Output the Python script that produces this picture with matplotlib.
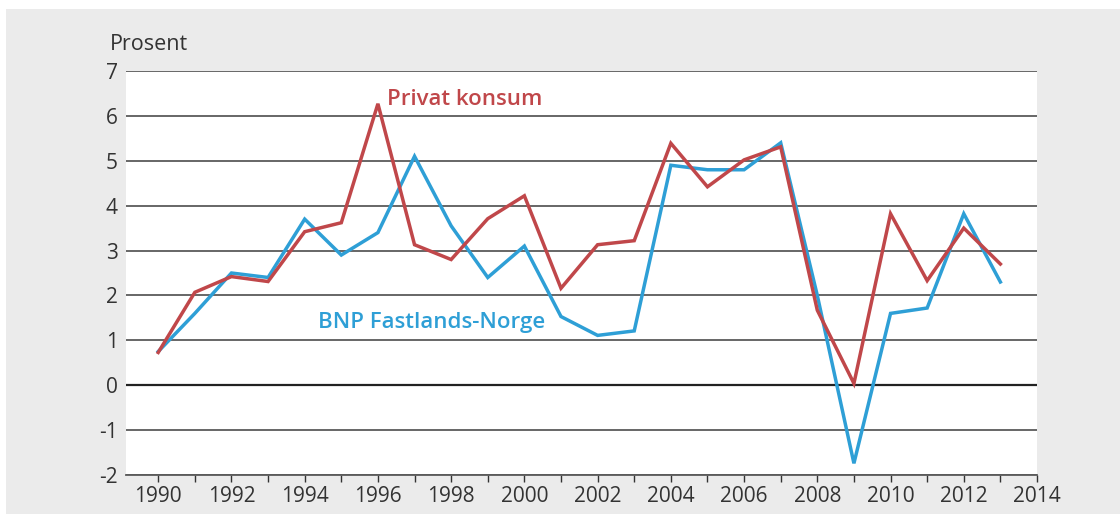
import matplotlib
matplotlib.use("Agg")
import matplotlib.pyplot as plt
from matplotlib.patches import Rectangle
from matplotlib.ticker import MultipleLocator

plt.rcParams['font.family'] = ['Open Sans', 'DejaVu Sans']

years = list(range(1990, 2014))
bnp = [0.75, 1.6, 2.5, 2.4, 3.7, 2.9, 3.4, 5.1, 3.55, 2.4, 3.1, 1.53,
       1.11, 1.21, 4.9, 4.8, 4.8, 5.4, 2.0, -1.74, 1.6, 1.72, 3.82, 2.3]
konsum = [0.73, 2.07, 2.42, 2.31, 3.42, 3.62, 6.27, 3.13, 2.8, 3.71, 4.22, 2.16,
          3.13, 3.22, 5.39, 4.42, 5.02, 5.31, 1.67, 0.04, 3.82, 2.33, 3.5, 2.7]

blue = '#2e9fd6'
red = '#c0474a'
txt = '#333333'

fig = plt.figure(figsize=(11.2, 5.14), dpi=100, facecolor='white')
fig.patches.append(Rectangle((6 / 1120, 0), 1, 1 - 9 / 514, transform=fig.transFigure,
                             facecolor='#ebebeb', edgecolor='none', zorder=-10))

ax = fig.add_axes([126 / 1120, 1 - 475 / 514, (1037 - 126) / 1120, (475 - 71) / 514])
ax.set_zorder(5)
ax.set_facecolor('white')

# grid lines
for v in range(-2, 8):
    if v == 0:
        ax.axhline(v, color='#222222', lw=1.6, zorder=1)
    else:
        ax.axhline(v, color='#5a5a5a', lw=1.3, zorder=1)

ax.plot(years, bnp, color=blue, lw=2.5, zorder=3, solid_joinstyle='miter')
ax.plot(years, konsum, color=red, lw=2.5, zorder=4, solid_joinstyle='miter')

ax.text(1998.38, 6.37, 'Privat konsum', color=red, fontsize=16, fontweight='semibold',
        ha='center', va='center')
ax.text(1997.48, 1.4, 'BNP Fastlands-Norge', color=blue, fontsize=16, fontweight='semibold',
        ha='center', va='center')

ax.set_xlim(1989.12, 2014)
ax.set_ylim(-2, 7)
ax.xaxis.set_major_locator(MultipleLocator(2))
ax.xaxis.set_minor_locator(MultipleLocator(1))

for s in ['top', 'right', 'left']:
    ax.spines[s].set_visible(False)
ax.spines['bottom'].set_color('#5a5a5a')
ax.spines['bottom'].set_linewidth(1.3)

ax.tick_params(axis='y', length=0, labelsize=15, labelcolor=txt, pad=6)
ax.tick_params(axis='x', which='both', direction='out', length=5, width=1,
               color='#333333', labelsize=15, labelcolor=txt, pad=3)
ax.set_yticks(range(-2, 8))
ax.set_yticklabels([str(v) for v in range(-2, 8)])

fig.text(110 / 1120, 1 - 45 / 514, 'Prosent', fontsize=15.5, color=txt, va='center', ha='left')

fig.savefig('out.png', dpi=100, facecolor=fig.get_facecolor())
